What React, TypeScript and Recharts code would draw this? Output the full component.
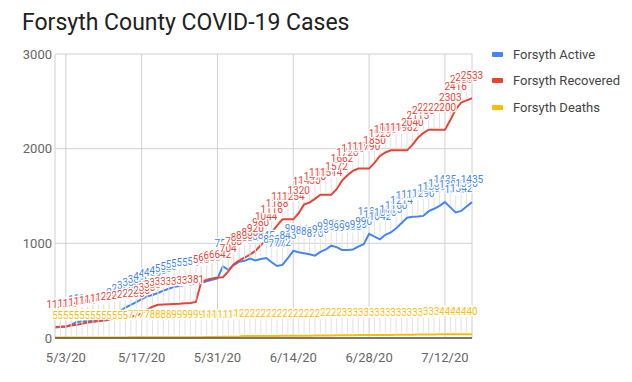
import React from "react";
import { LineChart, Line, XAxis, YAxis, CartesianGrid, LabelList } from "recharts";

// one point per day, 5/1/20 .. 7/17/20
const startDate = new Date(2020, 4, 1);
const dayCount = 78;
const dates: string[] = Array.from({ length: dayCount }, (_, i) => {
  const d = new Date(startDate.getFullYear(), startDate.getMonth(), startDate.getDate() + i);
  return `${d.getMonth() + 1}/${d.getDate()}/20`;
});

const tickLabels = ["5/3/20", "5/17/20", "5/31/20", "6/14/20", "6/28/20", "7/12/20"];
const yTicks = [0, 1000, 2000, 3000];

const active = [
  110, 115, 120, 140, 170, 175, 178, 180, 183, 186,
  190, 240, 285, 320, 350, 380, 410, 440, 455, 475,
  500, 520, 540, 550, 560, 565, 575, 580, 600, 615,
  630, 757, 720, 770, 805, 815, 840, 820, 835, 845,
  800, 760, 772, 843, 920, 905, 895, 885, 870, 910,
  935, 975, 960, 930, 930, 935, 965, 990, 1101, 1070,
  1042, 1090, 1115, 1160, 1214, 1270, 1280, 1283, 1290, 1340,
  1365, 1395, 1435, 1380, 1326, 1342, 1390, 1435,
];

const recovered = [
  116, 120, 125, 132, 140, 150, 163, 170, 180, 186,
  200, 205, 212, 220, 228, 236, 260, 300, 330, 351,
  355, 357, 360, 362, 366, 370, 381, 590, 615, 630,
  640, 642, 704, 780, 820, 850, 880, 920, 980, 1044,
  1116, 1188, 1254, 1254, 1254, 1320, 1411, 1430, 1470, 1514,
  1514, 1514, 1572, 1662, 1720, 1765, 1790, 1790, 1790, 1850,
  1923, 1960, 1982, 1982, 1982, 1982, 2040, 2115, 2165, 2200,
  2200, 2200, 2200, 2303, 2416, 2488, 2510, 2533,
];

const deaths = [
  5, 5, 5, 5, 5, 5, 5, 5, 5, 5,
  5, 5, 5, 5, 7, 7, 7, 7, 8, 8,
  8, 8, 9, 9, 9, 9, 9, 9, 10, 10,
  11, 12, 13, 14, 16, 20, 20, 21, 21, 22,
  22, 22, 23, 23, 24, 24, 25, 25, 26, 26,
  27, 27, 28, 29, 30, 30, 31, 31, 32, 32,
  33, 33, 33, 34, 34, 35, 35, 36, 36, 37,
  38, 39, 40, 40, 40, 40, 40, 40,
];

const series = [
  { key: "active", name: "Forsyth Active", color: "#4285F4" },
  { key: "recovered", name: "Forsyth Recovered", color: "#EA4335" },
  { key: "deaths", name: "Forsyth Deaths", color: "#FBBC04" },
];

const data = dates.map((date, i) => ({
  x: i,
  date,
  active: active[i],
  recovered: recovered[i],
  deaths: deaths[i],
}));

const xTicks = tickLabels.map((l) => dates.indexOf(l));

const FONT = "Roboto, 'Noto Sans', sans-serif";
const LABEL_RISE = 19;

// thin grey connector from the point up to its label
function Leader(props: any) {
  const { x, y } = props;
  if (x == null || y == null) return null;
  return <line x1={x} x2={x} y1={y - LABEL_RISE + 2} y2={y - 2} stroke="#e3e3e3" strokeWidth={1} />;
}

function makeLabel(color: string) {
  return (props: any) => {
    const { x, y, value } = props;
    if (x == null || y == null) return null;
    return (
      <text
        x={x}
        y={y - LABEL_RISE}
        textAnchor="middle"
        fontSize={10}
        fontFamily={FONT}
        fill={color}
        stroke="#fff"
        strokeWidth={2.5}
        paintOrder="stroke"
      >
        {value}
      </text>
    );
  };
}

export default function App() {
  return (
    <div style={{ position: "absolute", left: 0, top: 0, width: 632, height: 382, background: "#fff", fontFamily: FONT }}>
      <div
        style={{
          position: "absolute",
          left: 22,
          top: 11,
          fontSize: 23,
          lineHeight: 1,
          color: "#212121",
          whiteSpace: "nowrap",
        }}
      >
        Forsyth County COVID-19 Cases
      </div>

      <LineChart width={632} height={382} data={data} margin={{ top: 54, right: 160, left: 5, bottom: 14 }}>
        <CartesianGrid stroke="#d0d0d0" />
        <XAxis
          dataKey="x"
          type="number"
          domain={[0, dayCount - 1]}
          ticks={xTicks}
          tickFormatter={(i: number) => dates[i]}
          height={30}
          tickLine={false}
          tickSize={0}
          tickMargin={15}
          axisLine={{ stroke: "#555", strokeWidth: 1.5 }}
          tick={{ fontSize: 13, fill: "#666", fontFamily: FONT }}
        />
        <YAxis
          domain={[0, 3000]}
          ticks={yTicks}
          width={50}
          axisLine={false}
          tickLine={false}
          tickSize={0}
          tickMargin={3}
          tick={{ fontSize: 13, fill: "#666", fontFamily: FONT }}
        />

        {series.map((s) => (
          <Line
            key={"lead-" + s.key}
            dataKey={s.key}
            stroke="none"
            dot={false}
            activeDot={false}
            legendType="none"
            isAnimationActive={false}
          >
            <LabelList dataKey={s.key} content={Leader} />
          </Line>
        ))}

        {series.map((s) => (
          <Line
            key={s.key}
            type="linear"
            dataKey={s.key}
            name={s.name}
            stroke={s.color}
            strokeWidth={2}
            dot={false}
            activeDot={false}
            isAnimationActive={false}
          />
        ))}

        {series.map((s) => (
          <Line
            key={"lab-" + s.key}
            dataKey={s.key}
            stroke="none"
            dot={false}
            activeDot={false}
            legendType="none"
            isAnimationActive={false}
          >
            <LabelList dataKey={s.key} content={makeLabel(s.color)} />
          </Line>
        ))}
      </LineChart>

      <div style={{ position: "absolute", left: 492, top: 41 }}>
        {series.map((s) => (
          <div key={s.key} style={{ display: "flex", alignItems: "center", height: 26.5 }}>
            <span style={{ width: 11, height: 5, borderRadius: 1, background: s.color, marginRight: 10 }} />
            <span style={{ fontSize: 13, color: "#444", whiteSpace: "nowrap" }}>{s.name}</span>
          </div>
        ))}
      </div>
    </div>
  );
}
